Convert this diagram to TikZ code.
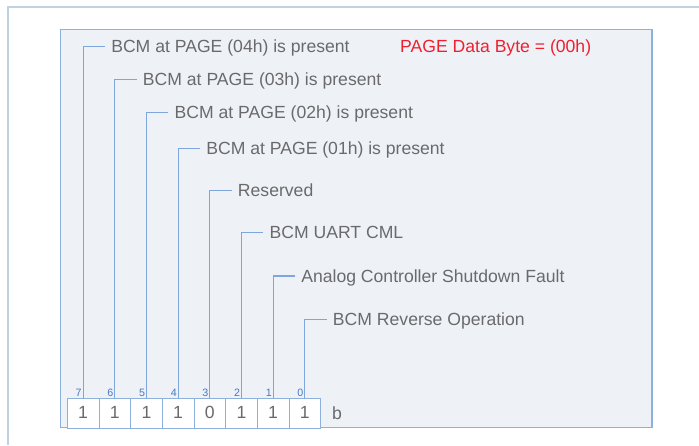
\documentclass[tikz,border=0pt]{standalone}
\usepackage{fontspec}
\setmainfont{Liberation Sans}
\usetikzlibrary{positioning}
\definecolor{framegray}{HTML}{C0D1DF}
\definecolor{boxfill}{HTML}{EEF2F7}
\definecolor{boxline}{HTML}{8EB0DC}
\definecolor{wireblue}{HTML}{7FA6DC}
\definecolor{labgray}{HTML}{6A6A6C}
\definecolor{idxblue}{HTML}{4A78C0}
\definecolor{pagered}{HTML}{EE2030}
\begin{document}
\begin{tikzpicture}[x=1pt,y=-1pt,
  bitbox/.style={draw=boxline, fill=white, minimum width=31.67pt, minimum height=29.7pt, inner sep=0pt, text=labgray, font=\fontsize{17.6}{20}\selectfont},
  fieldlabel/.style={anchor=west, inner sep=3pt, text=labgray, font=\fontsize{17.6}{20}\selectfont, text height=12.5pt, text depth=0pt},
  bitindex/.style={anchor=south east, inner sep=1.2pt, text=idxblue, font=\fontsize{10.7}{12}\selectfont},
  wire/.style={draw=wireblue, line width=1.2pt}]
\useasboundingbox (0,0) rectangle (699,445);
\draw[framegray, line width=2pt] (699,7.3) -- (8.3,7.3) -- (8.3,445);
\draw[boxline, line width=1.2pt, fill=boxfill] (60.3,29.3) rectangle (652,427.7);
% register cells
\foreach \bit/\val in {7/1,6/1,5/1,4/1,3/0,2/1,1/1,0/1}
	\node[bitbox] (b\bit) at ({83.1+31.67*(7-\bit)}, 412.85) {\val};
\node[fieldlabel, inner sep=0pt, right=11pt of b0] (unit) {b};
% field names
\foreach \bit/\ypos/\txt in {7/46.7/BCM at PAGE (04h) is present, 6/79.3/BCM at PAGE (03h) is present, 5/112.3/BCM at PAGE (02h) is present, 4/148.3/BCM at PAGE (01h) is present, 3/190.7/Reserved, 2/232.7/BCM UART CML, 1/276/Analog Controller Shutdown Fault, 0/319.3/BCM Reverse Operation}
{
	\node[fieldlabel] (f\bit) at ({83.1+31.67*(7-\bit)+25}, \ypos) {\txt};
	\draw[wire, shorten >=3pt] (b\bit.north) |- (f\bit.west);
	\node[bitindex] (i\bit) at (b\bit.north) {\bit};
}
\node[fieldlabel, inner sep=0pt, text=pagered] (page) at (400,46.7) {PAGE Data Byte = (00h)};
\end{tikzpicture}
\end{document}
